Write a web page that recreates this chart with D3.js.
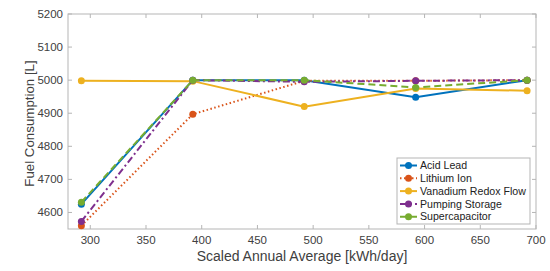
<!DOCTYPE html>
<html>
<head>
<meta charset="utf-8">
<script src="https://cdn.jsdelivr.net/npm/d3@7"></script>
<style>
  body { margin: 0; background: #fff; }
  svg { font-family: "Liberation Sans", Arial, sans-serif; }
</style>
</head>
<body>
<div id="chart"></div>
<script>
// Data
var xValues = [292, 392, 492, 592, 692];
var acidLead = [4625, 5000, 5000, 4948, 5000];
var lithiumIon = [4560, 4897, 4998, 4998, 5000];
var vanadium = [4998, 4997, 4920, 4975, 4968];
var pumping = [4573, 5000, 4995, 4998, 5000];
var supercap = [4631, 5000, 5000, 4978, 5000];
var xTicks = [300, 350, 400, 450, 500, 550, 600, 650, 700];
var yTicks = [4600, 4700, 4800, 4900, 5000, 5100, 5200];

var series = [
  {name: "Acid Lead", values: acidLead, color: "#0072BD", dash: null},
  {name: "Lithium Ion", values: lithiumIon, color: "#D95319", dash: "1.5,2.5"},
  {name: "Vanadium Redox Flow", values: vanadium, color: "#EDB120", dash: null},
  {name: "Pumping Storage", values: pumping, color: "#7E2F8E", dash: "7,3,2,3"},
  {name: "Supercapacitor", values: supercap, color: "#77AC30", dash: "7,4"}
];

var W = 550, H = 271;
var margin = {top: 14, right: 14, bottom: 42, left: 68};
var width = W - margin.left - margin.right,
    height = H - margin.top - margin.bottom;

var svg = d3.select("#chart").append("svg")
    .attr("width", W)
    .attr("height", H);

var g = svg.append("g")
    .attr("transform", "translate(" + margin.left + "," + margin.top + ")");

var x = d3.scaleLinear().domain([280, 700]).range([0, width]);
var y = d3.scaleLinear().domain([4550, 5200]).range([height, 0]);

var axisColor = "#b5b5b5", textColor = "#404040";

// Box
g.append("rect")
    .attr("width", width).attr("height", height)
    .attr("fill", "none").attr("stroke", axisColor).attr("stroke-width", 1);

// Ticks inward on all four sides
var tick = 4;
xTicks.forEach(function(t) {
  g.append("line").attr("x1", x(t)).attr("x2", x(t)).attr("y1", height).attr("y2", height - tick)
    .attr("stroke", axisColor);
  g.append("line").attr("x1", x(t)).attr("x2", x(t)).attr("y1", 0).attr("y2", tick)
    .attr("stroke", axisColor);
  g.append("text").attr("x", x(t)).attr("y", height + 15)
    .attr("text-anchor", "middle").attr("font-size", 11.5).attr("fill", textColor)
    .text(t);
});
yTicks.forEach(function(t) {
  g.append("line").attr("x1", 0).attr("x2", tick).attr("y1", y(t)).attr("y2", y(t))
    .attr("stroke", axisColor);
  g.append("line").attr("x1", width).attr("x2", width - tick).attr("y1", y(t)).attr("y2", y(t))
    .attr("stroke", axisColor);
  g.append("text").attr("x", -5).attr("y", y(t)).attr("dy", "0.35em")
    .attr("text-anchor", "end").attr("font-size", 11.5).attr("fill", textColor)
    .text(t);
});

// Axis titles
svg.append("text")
    .attr("x", margin.left + x(490)).attr("y", 261)
    .attr("text-anchor", "middle").attr("font-size", 14).attr("fill", textColor)
    .text("Scaled Annual Average [kWh/day]");
svg.append("text")
    .attr("transform", "translate(34," + (margin.top + height / 2 + 2) + ") rotate(-90)")
    .attr("text-anchor", "middle").attr("font-size", 13.3).attr("fill", textColor)
    .text("Fuel Consumption [L]");

// Lines
var line = d3.line()
    .x(function(d, i) { return x(xValues[i]); })
    .y(function(d) { return y(d); });

series.forEach(function(s) {
  g.append("path")
      .datum(s.values)
      .attr("d", line)
      .attr("fill", "none")
      .attr("stroke", s.color)
      .attr("stroke-width", 2)
      .attr("stroke-dasharray", s.dash);
  g.selectAll(null).data(s.values).enter().append("circle")
      .attr("cx", function(d, i) { return x(xValues[i]); })
      .attr("cy", function(d) { return y(d); })
      .attr("r", 3.5)
      .attr("fill", s.color);
});

// Legend
var lg = svg.append("g").attr("transform", "translate(397,158)");
lg.append("rect").attr("width", 133).attr("height", 66)
    .attr("fill", "#fff").attr("stroke", axisColor);
series.forEach(function(s, i) {
  var yy = 7.5 + i * 12.8;
  lg.append("line").attr("x1", 3).attr("x2", 20).attr("y1", yy).attr("y2", yy)
    .attr("stroke", s.color).attr("stroke-width", 2).attr("stroke-dasharray", s.dash);
  lg.append("circle").attr("cx", 11.5).attr("cy", yy).attr("r", 3.5).attr("fill", s.color);
  lg.append("text").attr("x", 23).attr("y", yy).attr("dy", "0.35em")
    .attr("font-size", 10.6).attr("fill", "#222").text(s.name);
});
</script>
</body>
</html>
